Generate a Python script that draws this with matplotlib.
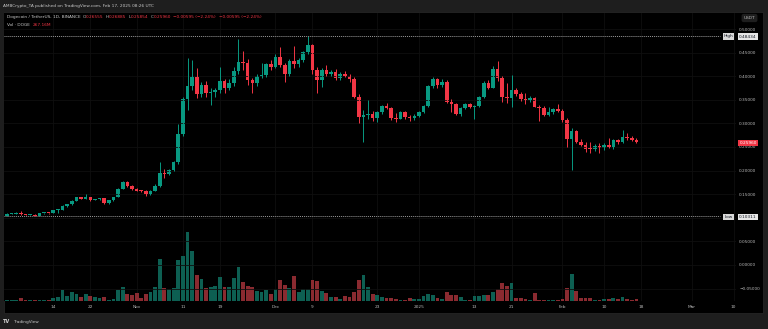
import numpy as np
import pandas as pd
import matplotlib
matplotlib.use('Agg')
import matplotlib.pyplot as plt
import matplotlib.dates as mdates
from matplotlib.patches import Rectangle

# daily DOGE/USDT candles, 2024-10-04 .. 2025-02-17
start_date = '2024-10-04'
opens = [0.1040, 0.1085, 0.1090, 0.1112, 0.1075, 0.1060, 0.1068, 0.1048, 0.1100, 0.1105,
         0.1102, 0.1160, 0.1168, 0.1255, 0.1292, 0.1362, 0.1433, 0.1400, 0.1430, 0.1380,
         0.1390, 0.1412, 0.1306, 0.1370, 0.1440, 0.1610, 0.1751, 0.1673, 0.1603, 0.1575,
         0.1570, 0.1497, 0.1574, 0.1680, 0.1956, 0.1920, 0.2012, 0.2182, 0.2769, 0.3510,
         0.3793, 0.3983, 0.3616, 0.3807, 0.3637, 0.3666, 0.3700, 0.3899, 0.3757, 0.3863,
         0.4118, 0.4294, 0.4280, 0.3920, 0.3849, 0.4004, 0.4030, 0.4266, 0.4202, 0.4407,
         0.4237, 0.4047, 0.4322, 0.4252, 0.4343, 0.4520, 0.4661, 0.4132, 0.3920, 0.4132,
         0.4047, 0.4096, 0.3969, 0.4054, 0.4011, 0.3934, 0.3566, 0.3129, 0.3171, 0.3199,
         0.3107, 0.3235, 0.3369, 0.3333, 0.3120, 0.3100, 0.3249, 0.3129, 0.3115, 0.3157,
         0.3249, 0.3376, 0.3792, 0.3934, 0.3806, 0.3877, 0.3460, 0.3411, 0.3199, 0.3319,
         0.3411, 0.3355, 0.3369, 0.3552, 0.3863, 0.3757, 0.4145, 0.3955, 0.3566, 0.3531,
         0.3707, 0.3623, 0.3509, 0.3495, 0.3545, 0.3354, 0.3326, 0.3177, 0.3234, 0.3312,
         0.3269, 0.3064, 0.2662, 0.2838, 0.2612, 0.2542, 0.2475, 0.2455, 0.2521, 0.2471,
         0.2542, 0.2507, 0.2641, 0.2612, 0.2704, 0.2683, 0.26555]
highs = [0.1092, 0.1098, 0.1120, 0.1135, 0.1085, 0.1075, 0.1078, 0.1108, 0.1112, 0.1110,
         0.1165, 0.1193, 0.1262, 0.1300, 0.1370, 0.1440, 0.1445, 0.1495, 0.1445, 0.1405,
         0.1420, 0.1425, 0.1378, 0.1448, 0.1625, 0.1770, 0.1775, 0.1700, 0.1640, 0.1590,
         0.1595, 0.1585, 0.1720, 0.2175, 0.2027, 0.2030, 0.2200, 0.2980, 0.3560, 0.4379,
         0.4344, 0.4167, 0.3880, 0.3900, 0.3760, 0.3760, 0.4200, 0.3950, 0.3950, 0.4200,
         0.4788, 0.4540, 0.4358, 0.3960, 0.4040, 0.4287, 0.4290, 0.4350, 0.4480, 0.4626,
         0.4280, 0.4360, 0.4640, 0.4380, 0.4540, 0.48434, 0.4680, 0.4200, 0.4180, 0.4240,
         0.4130, 0.4150, 0.4080, 0.4120, 0.4040, 0.3980, 0.3620, 0.3284, 0.3496, 0.3260,
         0.3270, 0.3400, 0.3425, 0.3350, 0.3210, 0.3270, 0.3260, 0.3180, 0.3200, 0.3270,
         0.3400, 0.3810, 0.3975, 0.3960, 0.3950, 0.3920, 0.3520, 0.3440, 0.3340, 0.3430,
         0.3440, 0.3400, 0.3580, 0.3900, 0.3910, 0.4220, 0.4329, 0.4000, 0.3860, 0.4020,
         0.3760, 0.3660, 0.3640, 0.3580, 0.3560, 0.3380, 0.3360, 0.3340, 0.3330, 0.3410,
         0.3300, 0.3110, 0.2910, 0.2870, 0.2660, 0.2600, 0.2612, 0.2560, 0.2590, 0.2580,
         0.2680, 0.2660, 0.2670, 0.2860, 0.2800, 0.2740, 0.26885]
lows = [0.10311, 0.1075, 0.1082, 0.1068, 0.1052, 0.1050, 0.1038, 0.1042, 0.1090, 0.1085,
        0.1095, 0.1094, 0.1160, 0.1235, 0.1280, 0.1350, 0.1390, 0.1395, 0.1365, 0.1370,
        0.1380, 0.1290, 0.1300, 0.1362, 0.1430, 0.1600, 0.1650, 0.1580, 0.1560, 0.1555,
        0.1455, 0.1490, 0.1560, 0.1660, 0.1850, 0.1900, 0.1990, 0.2150, 0.2730, 0.3290,
        0.3700, 0.3530, 0.3550, 0.3550, 0.3400, 0.3560, 0.3650, 0.3640, 0.3700, 0.3800,
        0.4050, 0.4130, 0.3814, 0.3651, 0.3800, 0.3960, 0.3990, 0.4130, 0.4180, 0.4200,
        0.3885, 0.4000, 0.4180, 0.4200, 0.4300, 0.4480, 0.4050, 0.3651, 0.3780, 0.4000,
        0.4000, 0.3920, 0.3930, 0.3980, 0.3880, 0.3530, 0.3001, 0.2613, 0.3100, 0.3060,
        0.3040, 0.3200, 0.3300, 0.3080, 0.3040, 0.3090, 0.3100, 0.3050, 0.3080, 0.3140,
        0.3230, 0.3350, 0.3760, 0.3740, 0.3780, 0.3440, 0.3250, 0.3170, 0.3150, 0.3300,
        0.3320, 0.3090, 0.3350, 0.3530, 0.3720, 0.3740, 0.3900, 0.3460, 0.3430, 0.3350,
        0.3580, 0.3480, 0.3410, 0.3460, 0.3340, 0.3050, 0.3150, 0.3150, 0.3200, 0.3250,
        0.3040, 0.2507, 0.2012, 0.2580, 0.2520, 0.2400, 0.2380, 0.2420, 0.2380, 0.2440,
        0.2480, 0.2460, 0.2570, 0.2590, 0.2640, 0.2620, 0.25854]
closes = [0.1085, 0.1090, 0.1112, 0.1075, 0.1060, 0.1068, 0.1048, 0.1100, 0.1105, 0.1102,
          0.1160, 0.1168, 0.1255, 0.1292, 0.1362, 0.1433, 0.1398, 0.1430, 0.1378, 0.1390,
          0.1412, 0.1306, 0.1370, 0.1440, 0.1610, 0.1751, 0.1673, 0.1603, 0.1575, 0.1570,
          0.1497, 0.1574, 0.1680, 0.1956, 0.1920, 0.2012, 0.2182, 0.2769, 0.3510, 0.3793,
          0.3983, 0.3616, 0.3807, 0.3637, 0.3666, 0.3700, 0.3899, 0.3757, 0.3863, 0.4118,
          0.4294, 0.4280, 0.3920, 0.3849, 0.4004, 0.4030, 0.4266, 0.4202, 0.4407, 0.4237,
          0.4047, 0.4322, 0.4252, 0.4343, 0.4520, 0.4661, 0.4132, 0.3920, 0.4132, 0.4047,
          0.4096, 0.3969, 0.4054, 0.4011, 0.3934, 0.3566, 0.3129, 0.3171, 0.3199, 0.3107,
          0.3235, 0.3369, 0.3333, 0.3107, 0.3100, 0.3249, 0.3129, 0.3115, 0.3157, 0.3249,
          0.3376, 0.3792, 0.3934, 0.3806, 0.3877, 0.3460, 0.3411, 0.3199, 0.3319, 0.3411,
          0.3355, 0.3369, 0.3552, 0.3863, 0.3757, 0.4145, 0.3955, 0.3566, 0.3531, 0.3707,
          0.3623, 0.3509, 0.3495, 0.3545, 0.3354, 0.3326, 0.3177, 0.3234, 0.3312, 0.3269,
          0.3064, 0.2662, 0.2838, 0.2612, 0.2542, 0.2450, 0.2455, 0.2521, 0.2471, 0.2542,
          0.2507, 0.2641, 0.2612, 0.2704, 0.2683, 0.2656, 0.2596]
# volume in millions of DOGE
volumes = [130, 90, 130, 345, 130, 130, 130, 90, 90, 90,
           345, 520, 1380, 690, 1120, 860, 520, 860, 600, 520,
           430, 520, 130, 260, 1420, 1810, 950, 775, 1030, 345,
           860, 1160, 1810, 5500, 1720, 1550, 1680, 5380, 5800, 9030,
           6500, 3440, 2920, 1630, 1850, 1890, 3100, 1800, 1850, 3010,
           4390, 2450, 1980, 1850, 1290, 1160, 1380, 950, 1500, 2750,
           2060, 1680, 3220, 1200, 1590, 1550, 2710, 2580, 1330, 1080,
           520, 470, 300, 600, 520, 1200, 2710, 3440, 1810, 900,
           820, 520, 345, 345, 260, 130, 170, 390, 215, 215,
           600, 860, 730, 345, 300, 1120, 820, 775, 520, 130,
           130, 690, 600, 775, 775, 1200, 1590, 2370, 1890, 2280,
           430, 430, 215, 130, 1030, 170, 130, 90, 130, 130,
           215, 1720, 3570, 1290, 345, 345, 345, 130, 130, 300,
           300, 430, 300, 520, 300, 130, 267]

tick_dates = ['2024-10-14', '2024-10-22', '2024-11-01', '2024-11-11', '2024-11-19',
              '2024-12-01', '2024-12-09', '2024-12-23', '2025-01-01', '2025-01-13',
              '2025-01-21', '2025-02-01', '2025-02-10', '2025-02-18', '2025-03-01',
              '2025-03-10']
tick_labels = ['14', '22', 'Nov', '11', '19', 'Dec', '9', '23', '2025', '13',
               '21', 'Feb', '10', '18', 'Mar', '10']
price_ticks = [-0.05, 0.0, 0.05, 0.10, 0.15, 0.20, 0.25, 0.30, 0.35, 0.40, 0.45, 0.50]

high_val, low_val = 0.48434, 0.10311

UP, DOWN = '#089981', '#f23645'
VUP, VDOWN = '#0d5f52', '#8a2a30'
TXT = '#b8b8b8'
FS = 3.1

W, H = 768, 329
fig = plt.figure(figsize=(W / 100, H / 100), dpi=100, facecolor='#1e1e1e')

def fx(px):
    return px / W

def fy(py):
    return 1 - py / H

# black chart pane (behind the axes)
fig.patches.append(Rectangle((fx(4), fy(313)), fx(763) - fx(4), fy(12) - fy(313),
                             transform=fig.transFigure, facecolor='black',
                             edgecolor='#2a2a2a', lw=0.5, zorder=-5))

ax2 = fig.add_axes([fx(4), fy(301), fx(736) - fx(4), fy(13) - fy(301)])
ax = ax2.twinx()
ax2.set_zorder(1)
ax.set_zorder(2)
ax.patch.set_visible(False)
ax2.set_facecolor('black')

dates = mdates.date2num(pd.date_range(start_date, periods=len(closes)).to_pydatetime())
o = np.array(opens); h = np.array(highs); l = np.array(lows); c = np.array(closes)
up = c >= o
cols = np.where(up, UP, DOWN)

# volume (own hidden scale)
ax2.bar(dates, volumes, width=0.82, color=np.where(up, VUP, VDOWN), linewidth=0)
ax2.set_ylim(0, 37440)

# candles
ax.vlines(dates, l, h, colors=cols, linewidth=0.7)
body = np.maximum(np.abs(c - o), 0.0016)
ax.bar(dates, body, bottom=np.minimum(o, c), width=0.78, color=cols, linewidth=0)

d0 = dates[0]
ax2.set_xlim(d0 - 0.65, d0 + 157.5)
ax.set_ylim(-0.0763, 0.5339)

ax.axhline(high_val, xmax=(720 - 4) / (736 - 4), color='#9a9a9a', ls=(0, (1, 1)), lw=0.7)
ax.axhline(low_val, xmax=(720 - 4) / (736 - 4), color='#9a9a9a', ls=(0, (1, 1)), lw=0.7)

ax.yaxis.tick_right()
ax.set_yticks(price_ticks)
ax.set_yticklabels([f'{v:.5f}'.replace('-', '\u2212') for v in price_ticks])
ax.tick_params(axis='y', length=0, labelsize=FS, labelcolor=TXT, pad=2.2)
ax.grid(True, axis='y', color='#0f0f0f', lw=0.6)

ax2.set_yticks([])
ax2.set_xticks(mdates.date2num(pd.to_datetime(tick_dates).to_pydatetime()))
ax2.set_xticklabels(tick_labels)
ax2.tick_params(axis='x', length=0, labelsize=FS, labelcolor=TXT, pad=3, labelbottom=True)
ax2.grid(True, axis='x', color='#0f0f0f', lw=0.6)
ax2.set_axisbelow(True)
for a in (ax, ax2):
    for s in a.spines.values():
        s.set_visible(False)

# price scale labels
box = dict(boxstyle='square,pad=0.25', lw=0)
fig.text(fx(728.5), fy(36.5), 'High', fontsize=FS, color='#131722', ha='center', va='center',
         bbox=dict(box, facecolor='#d8d8d8'))
fig.text(fx(748), fy(36.5), f'{high_val:.5f}', fontsize=FS, color='#131722', ha='center',
         va='center', bbox=dict(box, facecolor='#e6e6e6'))
fig.text(fx(728.5), fy(217), 'Low', fontsize=FS, color='#131722', ha='center', va='center',
         bbox=dict(box, facecolor='#d8d8d8'))
fig.text(fx(748), fy(217), f'{low_val:.5f}', fontsize=FS, color='#131722', ha='center',
         va='center', bbox=dict(box, facecolor='#e6e6e6'))
fig.text(fx(748), fy(143), f'{closes[-1]:.5f}', fontsize=FS, color='white', ha='center',
         va='center', bbox=dict(box, facecolor=DOWN), zorder=10)
fig.text(fx(749.5), fy(18), 'USDT', fontsize=FS, color=TXT, ha='center', va='center',
         bbox=dict(boxstyle='round,pad=0.5', facecolor='#1e1e1e', lw=0))

# header and legend
fig.text(fx(3), fy(6), 'AMBCrypto_TA published on TradingView.com, Feb 17, 2025 08:26 UTC',
         fontsize=FS, color='#c8c8c8', va='center')


def chain_text(parts, x, y):
    prev = fig.text(fx(x), fy(y), parts[0][0], fontsize=FS, color=parts[0][1], va='center',
                    zorder=10)
    for s, col, gap in parts[1:]:
        prev = fig.add_artist(plt.Annotation(s, xy=(1, 0.5), xycoords=prev, xytext=(gap, 0),
                                             textcoords='offset points', va='center',
                                             fontsize=FS, color=col, zorder=10))
    return prev


chain_text([('Dogecoin / TetherUS, 1D, BINANCE', '#c8c8c8'),
            ('O', TXT, 1.5), ('0.26555', DOWN, 0), ('H', TXT, 1.5), ('0.26885', DOWN, 0),
            ('L', TXT, 1.5), ('0.25854', DOWN, 0), ('C', TXT, 1.5), ('0.25960', DOWN, 0),
            ('\u22120.00595 (\u22122.24%)', DOWN, 2), ('\u22120.00595 (\u22122.24%)', DOWN, 2)],
           7, 17)
chain_text([('Vol \u00b7 DOGE', '#c8c8c8'), ('267.16M', DOWN, 2)], 7, 24.5)

# footer logo
fig.text(fx(3), fy(321.5), 'TV', fontsize=3.6, color='#d0d0d0', va='center', weight='bold')
fig.text(fx(14), fy(321.5), 'TradingView', fontsize=FS, color='#c8c8c8', va='center')

fig.savefig('out.png', dpi=100, facecolor=fig.get_facecolor())
